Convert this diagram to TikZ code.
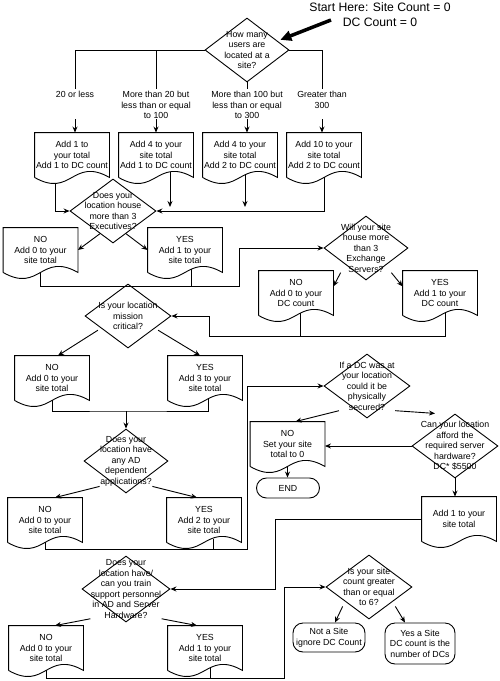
\documentclass[tikz,border=0pt]{standalone}
\usepackage{fontspec}
\setmainfont{Liberation Sans}
\usetikzlibrary{arrows.meta,shapes.geometric,calc}

\tikzset{
  txt/.style={font=\fontsize{8.8}{10.5}\selectfont, align=center, inner sep=0pt},
  lbl/.style={txt, anchor=north},
  doc/.style={txt, minimum width=74pt, minimum height=44pt},
  ask/.style={draw, diamond, inner sep=0pt, minimum width=86pt, minimum height=64pt},
  stopbox/.style={txt, draw, rounded corners=10pt, minimum width=63pt, minimum height=20pt},
  link/.style={-{Stealth[length=6pt,width=5pt]}},
  hint/.style={line width=3.5pt, -{Triangle[length=11pt,width=10pt]}},
}

\begin{document}
\begin{tikzpicture}[x=1pt,y=-1pt,line width=0.9pt]
\useasboundingbox (0,0) rectangle (500,681);

% start
\node[txt, font=\fontsize{12.2}{15}\selectfont] (start) at (380,15) {Start Here: Site Count = 0\\DC Count = 0};
\node[ask, minimum width=84pt] (q1) at (247,50) {};
\node[txt] (q1t) at (q1) {How many\\users are\\located at a\\site?};
\draw[hint, shorten >=3pt] ([xshift=22pt,yshift=-5pt]start.west) -- ($(q1.north)!0.72!(q1.east)$);

% number of users
\node[lbl] (l1) at (75,91) {20 or less};
\node[lbl] (l2) at (156,91) {More than 20 but\\less than or equal\\to 100};
\node[lbl] (l3) at (247,91) {More than 100 but\\less than or equal\\to 300};
\node[lbl] (l4) at (322,91) {Greater than\\300};
\coordinate (bar) at (0,119);
\draw[shorten >=2pt] (q1.west) -| (l1.north);
\draw[shorten >=2pt] (q1.west) -| (l2.north);
\draw[shorten >=2pt] (q1.south) -- (l3.north);
\draw[shorten >=2pt] (q1.east) -| (l4.north);

\node[doc] (b1) at (72,155) {Add 1 to\\your total\\Add 1 to DC count};
\node[doc] (b2) at (156,155) {Add 4 to your\\site total\\Add 1 to DC count};
\node[doc] (b3) at (240,155) {Add 4 to your\\site total\\Add 2 to DC count};
\node[doc] (b4) at (324,155) {Add 10 to your\\site total\\Add 2 to DC count};
\foreach \l/\b in {l1/b1,l2/b2,l3/b3,l4/b4}
  \draw[link] (\l.north |- bar) -- (\l.north |- \b.north);

% executives
\node[ask] (q2) at (113,211) {};
\node[txt] (q2t) at (q2) {Does your\\location house\\more than 3\\Executives?};
\draw[link] ([xshift=-17pt,yshift=-6pt]b1.south) |- (q2.west);
\draw[link] (b4.south) |- (q2.east);
\draw[link,shorten >=4pt] ([xshift=14pt,yshift=5pt]b2.south) -- ([xshift=14pt]b2.south |- q2.east);
\draw[link,shorten >=4pt] ([xshift=5pt,yshift=3pt]b3.south) -- ([xshift=5pt]b3.south |- q2.east);

\node[doc] (n1) at (40.5,250) {NO\\Add 0 to your\\site total};
\node[doc] (y1) at (185,250) {YES\\Add 1 to your\\site total};
\draw[link] ($(q2.south)!0.3!(q2.west)$) -- (n1.east);
\draw[link] ($(q2.south)!0.3!(q2.east)$) -- (y1.west);

% exchange servers
\node[ask, minimum width=84pt] (q3) at (366,248) {};
\node[txt] (q3t) at (q3) {Will your site\\house more\\than 3\\Exchange\\Servers?};
\coordinate (j1) at (239,286);
\draw[link] (n1.south) |- (j1) |- (q3.west);
\draw ([xshift=6pt,yshift=3pt]y1.south) -- ([xshift=6pt]y1.south |- j1);

\node[doc] (n2) at (296,293) {NO\\Add 0 to your\\DC count};
\node[doc] (y2) at (440,293) {YES\\Add 1 to your\\DC count};
\draw[link] (q3t.south west) -- (n2.10);
\draw[link] (q3t.south east) -- (y2.170);

% mission critical
\node[ask] (q4) at (128,316) {};
\node[txt] (q4t) at (q4) {Is your location\\mission\\critical?};
\coordinate (j2) at (209,336);
\draw[link] ([xshift=5pt,yshift=3pt]y2.south) |- (j2) |- (q4.east);
\draw ([xshift=4pt,yshift=2pt]n2.south) -- ([xshift=4pt]n2.south |- j2);

\node[doc] (n3) at (52,378) {NO\\Add 0 to your\\site total};
\node[doc] (y3) at (205,378) {YES\\Add 3 to your\\site total};
\draw[link] (q4t.south west) -- ([xshift=6pt]n3.north);
\draw[link] (q4t.south east) -- ([xshift=-5pt]y3.north);

% AD applications
\node[ask, minimum width=84pt] (q5) at (126,461) {};
\node[txt] (q5t) at (q5) {Does your\\location have\\any AD\\dependent\\applications?};
\coordinate (j3) at (126,411);
\draw (n3.south) |- (j3) -| ([xshift=3pt,yshift=2pt]y3.south);
\draw[link] (j3) -- (q5.north);

\node[doc] (n4) at (45,520) {NO\\Add 0 to your\\site total};
\node[doc] (y4) at (204,520) {YES\\Add 2 to your\\site total};
\draw[link] (q5t.south west) -- ([xshift=10pt]n4.north);
\draw[link] (q5t.south east) -- ([xshift=-7pt]y4.north);

% physical security
\node[ask] (q6) at (367,386) {};
\node[txt] (q6t) at (q6) {If a DC was at\\your location\\could it be\\physically\\secured?};
\coordinate (j4) at (247,549);
\draw[link] (n4.south) |- (j4) |- (q6.west);
\draw ([xshift=9pt,yshift=3pt]y4.south) -- ([xshift=9pt]y4.south |- j4);

\node[doc] (n5) at (287.5,444) {NO\\Set your site\\total to 0};
\node[ask] (q9) at (455,446) {};
\node[txt] (q9t) at (q9) {Can your location\\afford the\\required server\\hardware?\\DC* \$5500};
\draw[link] (q6t.south west) -- ([xshift=8pt]n5.north);
\draw[link,shorten >=2pt] (q6t.south east) -- ([xshift=-18pt]q9.north);
\draw[link] (q9.west) -- (q9.west -| n5.east);

\node[stopbox] (e1) at (288,488) {END};
\draw[link] (n5.south) -- (n5.south |- e1.north);

\node[doc] (a1) at (459,519) {Add 1 to your\\site total};
\draw[link] (q9.south) -- (q9.south |- a1.north);

% support personnel
\node[ask, minimum width=88pt, minimum height=66pt] (q7) at (126,589) {};
\node[txt] (q7t) at (q7) {Does your\\location have/\\can you train\\support personnel\\in AD and Server\\Hardware?};
\coordinate (j5) at (275,589);
\draw[link] (a1.west) -| (j5) -- (q7.east);

\node[doc] (n6) at (46,648) {NO\\Add 0 to your\\site total};
\node[doc] (y6) at (205,648) {YES\\Add 1 to your\\site total};
\draw[link] (q7t.south west) -- ([xshift=9pt]n6.north);
\draw[link] (q7t.south east) -- ([xshift=-8pt]y6.north);

% site count
\node[ask] (q8) at (369,587) {};
\node[txt] (q8t) at (q8) {Is your site\\count greater\\than or equal\\to 6?};
\coordinate (j6) at (284,678);
\draw[link] (n6.south) |- (j6) |- (q8.west);
\draw ([xshift=5pt,yshift=3pt]y6.south) -- ([xshift=5pt]y6.south |- j6);

\node[stopbox, minimum width=72pt, minimum height=29pt] (t1) at (329,637.5) {Not a Site\\ignore DC Count};
\node[stopbox, minimum width=70pt, minimum height=41pt] (t2) at (420,643.5) {Yes a Site\\DC count is the\\number of DCs};
\draw[link] (q8t.south west) -- ([xshift=6pt]t1.north);
\draw[link] (q8t.south east) -- ([xshift=-15pt]t2.north);

% document outlines
\foreach \n in {b1,b2,b3,b4,n1,y1,n2,y2,n3,y3,n4,y4,n5,a1,n6,y6}
  \draw (\n.south west) -- (\n.north west) -- (\n.north east) -- (\n.south east)
    .. controls +(-37,-21) and +(37,21) .. (\n.south west);
\end{tikzpicture}
\end{document}
